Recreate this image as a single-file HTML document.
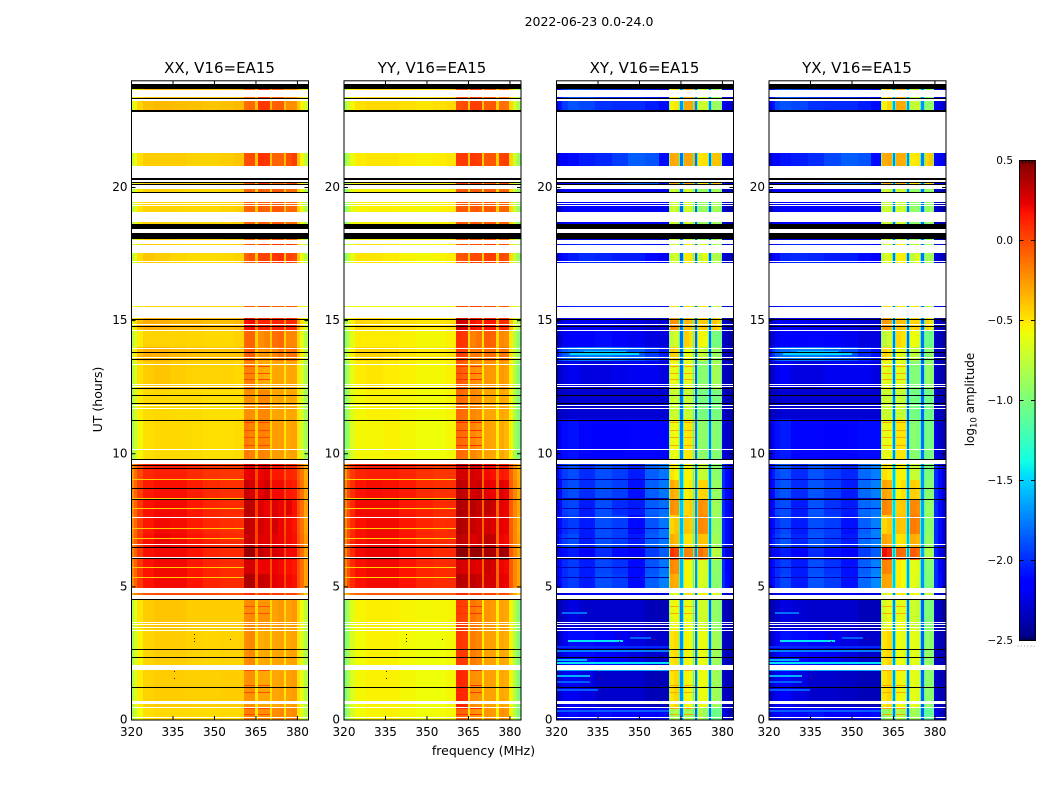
<!DOCTYPE html>
<html lang="en">
<head>
<meta charset="utf-8">
<title>2022-06-23 0.0-24.0</title>
<style>
html,body{margin:0;padding:0;background:#fff;}
svg{display:block;}
text{font-family:"DejaVu Sans","Liberation Sans",sans-serif;fill:#000;}
</style>
</head>
<body>
<svg id="figure" xmlns="http://www.w3.org/2000/svg" width="1050" height="800" viewBox="0 0 1050 800">
  <rect x="0" y="0" width="1050" height="800" fill="#fff"/>
  <text x="589" y="26" font-size="12.5" text-anchor="middle">2022-06-23 0.0-24.0</text>
  <text x="483.5" y="755" font-size="12.5" text-anchor="middle">frequency (MHz)</text>
  <text transform="translate(102,399.5) rotate(-90)" font-size="12.5" text-anchor="middle">UT (hours)</text>
  <text transform="translate(974,399.5) rotate(-90)" font-size="12" text-anchor="middle">log<tspan font-size="8.5" dy="2.5">10</tspan><tspan dy="-2.5"> amplitude</tspan></text>
  <g id="panels"></g>
  <g id="colorbar"></g>
</svg>
<script>
const panelTitles = ["XX, V16=EA15", "YY, V16=EA15", "XY, V16=EA15", "YX, V16=EA15"];
const xTickLabels = [320, 335, 350, 365, 380];
const yTickLabels = [0, 5, 10, 15, 20];
const colorbarTickLabels = [0.5, 0.0, -0.5, -1.0, -1.5, -2.0, -2.5];

const freqEdges = [320,321,322,324,328,334,340,346,352,357,360.5,362.5,364.7,365.7,367.8,369.9,370.8,373,375,376,378,379.8,381,382.5,384];
const hourEdges = [0,.5,1.9,3.4,4.55,4.97,5.5,6,6.45,7,7.7,8.3,9,9.62,11.3,12.4,13.5,14,14.6,15.11,17,18,20,22,24];

const xxValues = [
[-.85,-.7,-.58,-.48,-.46,-.46,-.47,-.47,-.46,-.46,-.18,-.16,-.5,-.22,-.22,-.5,-.22,-.2,-.5,-.22,-.2,-.5,-.65,-.8],
[-.82,-.65,-.52,-.44,-.42,-.42,-.43,-.43,-.42,-.42,-.24,-.22,-.5,-.3,-.3,-.48,-.3,-.28,-.5,-.28,-.26,-.48,-.62,-.78],
[-.85,-.68,-.55,-.45,-.42,-.42,-.44,-.45,-.44,-.44,-.22,-.2,-.48,-.32,-.3,-.5,-.3,-.28,-.5,-.3,-.28,-.5,-.65,-.8],
[-.8,-.62,-.5,-.42,-.4,-.4,-.42,-.42,-.42,-.42,-.22,-.2,-.45,-.24,-.24,-.46,-.28,-.25,-.45,-.28,-.25,-.45,-.6,-.75],
[-.3,-.2,-.12,-.04,0,0,0,0,-.02,-.02,.08,.1,-.15,.05,.08,-.15,.05,.05,-.18,.02,.02,-.15,-.25,-.4],
[-.2,-.08,.05,.17,.2,.2,.17,.12,.1,.1,.38,.38,.05,.32,.3,0,.24,.22,0,.2,.18,-.02,-.12,-.28],
[-.2,-.08,.05,.17,.2,.2,.16,.12,.1,.1,.28,.28,.02,.22,.22,-.02,.22,.2,-.02,.18,.16,-.02,-.12,-.28],
[-.2,-.08,.05,.18,.2,.2,.17,.12,.1,.1,.42,.42,.05,.32,.28,0,.28,.24,0,.2,.2,-.02,-.12,-.28],
[-.2,-.08,.06,.18,.22,.2,.17,.13,.11,.1,.3,.32,.02,.26,.24,0,.24,.22,0,.2,.18,-.02,-.12,-.26],
[-.22,-.1,.04,.16,.2,.19,.15,.11,.09,.08,.34,.32,.02,.28,.24,-.02,.28,.22,-.02,.2,.17,-.04,-.14,-.3],
[-.2,-.08,.05,.18,.2,.2,.16,.12,.1,.1,.35,.34,.04,.26,.22,0,.26,.22,0,.24,.18,-.02,-.12,-.28],
[-.22,-.1,.03,.15,.18,.18,.14,.1,.08,.08,.32,.28,.02,.24,.28,0,.2,.2,0,.16,.14,-.04,-.14,-.3],
[-.25,-.12,.0,.11,.13,.13,.1,.07,.06,.06,.22,.24,0,.22,.24,-.04,.16,.16,-.04,.12,.1,-.06,-.16,-.32],
[-.88,-.72,-.56,-.48,-.46,-.46,-.47,-.48,-.48,-.47,-.16,-.18,-.45,-.18,-.2,-.45,-.27,-.27,-.5,-.3,-.28,-.5,-.7,-.85],
[-.85,-.7,-.52,-.47,-.46,-.47,-.47,-.48,-.48,-.48,-.22,-.22,-.45,-.2,-.2,-.46,-.3,-.28,-.5,-.3,-.3,-.5,-.68,-.85],
[-.8,-.66,-.48,-.42,-.4,-.42,-.44,-.44,-.44,-.46,-.2,-.18,-.45,-.3,-.32,-.48,-.3,-.3,-.5,-.3,-.3,-.5,-.66,-.82],
[-.7,-.52,-.38,-.32,-.33,-.36,-.38,-.4,-.4,-.4,-.08,-.05,-.38,-.24,-.22,-.38,-.2,-.14,-.38,-.14,-.12,-.4,-.55,-.75],
[-.8,-.65,-.52,-.44,-.44,-.44,-.45,-.46,-.46,-.44,-.1,-.08,-.42,-.22,-.18,-.42,-.12,-.1,-.42,-.2,-.2,-.45,-.62,-.8],
[-.65,-.5,-.38,-.32,-.33,-.35,-.36,-.38,-.38,-.36,.18,.2,-.18,.12,.12,-.2,.12,.12,-.2,.1,.1,-.3,-.5,-.68],
[-.62,-.55,-.5,-.47,-.46,-.46,-.47,-.47,-.47,-.47,-.05,-.05,-.45,.02,.02,-.45,-.05,-.05,-.45,-.05,-.05,-.45,-.55,-.65],
[-.78,-.62,-.48,-.4,-.42,-.45,-.47,-.47,-.46,-.44,-.08,-.02,-.38,.02,.02,-.4,.06,.08,-.4,.02,.0,-.4,-.6,-.78],
[-.8,-.65,-.5,-.44,-.44,-.45,-.46,-.46,-.44,-.42,-.1,-.08,-.4,-.06,-.08,-.4,-.05,-.05,-.4,-.1,-.1,-.42,-.62,-.8],
[-.75,-.6,-.48,-.42,-.42,-.42,-.44,-.44,-.42,-.4,-.02,.0,-.38,.08,.06,-.38,-.08,-.08,-.36,-.02,.04,-.38,-.55,-.75],
[-.68,-.55,-.45,-.38,-.36,-.37,-.38,-.4,-.38,-.36,-.12,-.1,-.38,.06,.06,-.35,-.08,-.06,-.38,-.22,-.22,-.4,-.55,-.68]
];

const yyValues = [
[-1.0,-.85,-.68,-.57,-.55,-.54,-.56,-.58,-.57,-.56,-.08,-.1,-.5,-.22,-.25,-.55,-.24,-.26,-.55,-.22,-.25,-.55,-.8,-1.0],
[-1.0,-.84,-.66,-.56,-.54,-.54,-.56,-.58,-.58,-.56,.12,.1,-.48,-.22,-.24,-.52,-.28,-.28,-.54,-.3,-.32,-.55,-.8,-1.0],
[-1.0,-.85,-.67,-.57,-.54,-.54,-.57,-.58,-.58,-.56,.06,.05,-.48,-.16,-.2,-.52,-.28,-.28,-.52,-.3,-.32,-.55,-.8,-1.0],
[-.98,-.82,-.64,-.55,-.53,-.53,-.55,-.56,-.56,-.55,.04,.02,-.48,-.14,-.18,-.52,-.24,-.26,-.52,-.28,-.3,-.55,-.78,-.98],
[-.35,-.25,-.15,-.08,-.04,-.04,-.05,-.06,-.06,-.06,.1,.1,-.2,.05,.05,-.22,.02,.02,-.22,.02,0,-.2,-.32,-.45],
[-.18,-.02,.1,.18,.2,.2,.17,.12,.1,.1,.36,.34,-.05,.34,.3,-.1,.28,.28,-.1,.24,.22,-.05,-.2,-.3],
[-.18,-.02,.1,.18,.2,.2,.17,.12,.1,.1,.28,.26,-.08,.26,.24,-.1,.3,.28,-.1,.22,.2,-.05,-.2,-.3],
[-.18,-.02,.1,.2,.22,.22,.18,.13,.1,.1,.46,.46,-.02,.44,.44,-.06,.4,.38,-.06,.42,.4,-.05,-.2,-.3],
[-.2,-.02,.1,.18,.2,.2,.17,.12,.1,.1,.34,.32,-.06,.26,.28,-.1,.34,.32,-.1,.22,.2,-.05,-.2,-.3],
[-.2,-.03,.09,.18,.2,.2,.16,.12,.09,.1,.38,.36,-.06,.32,.28,-.1,.28,.26,-.1,.24,.22,-.06,-.2,-.32],
[-.18,-.02,.1,.2,.2,.2,.16,.13,.1,.1,.38,.36,-.05,.36,.32,-.1,.34,.3,-.1,.24,.22,-.05,-.2,-.3],
[-.2,-.03,.08,.17,.19,.18,.15,.1,.08,.08,.34,.32,-.06,.28,.3,-.1,.24,.22,-.1,.26,.22,-.06,-.2,-.32],
[-.24,-.06,.05,.12,.14,.14,.12,.08,.06,.06,.28,.28,-.08,.28,.26,-.1,.2,.18,-.1,.16,.14,-.08,-.22,-.34],
[-1.0,-.85,-.66,-.56,-.56,-.54,-.56,-.58,-.58,-.56,-.1,-.12,-.52,-.2,-.24,-.52,-.28,-.3,-.54,-.3,-.35,-.55,-.85,-1.0],
[-.98,-.82,-.64,-.56,-.54,-.54,-.56,-.57,-.57,-.55,-.1,-.12,-.52,-.2,-.22,-.52,-.3,-.3,-.54,-.3,-.32,-.55,-.82,-1.0],
[-.96,-.8,-.62,-.52,-.5,-.52,-.54,-.56,-.56,-.54,-.05,-.08,-.5,-.22,-.25,-.5,-.25,-.25,-.52,-.25,-.28,-.55,-.8,-.98],
[-.88,-.7,-.54,-.44,-.44,-.46,-.5,-.52,-.52,-.5,.05,.02,-.46,-.15,-.15,-.46,-.12,-.12,-.46,-.14,-.16,-.5,-.75,-.92],
[-.96,-.8,-.62,-.52,-.52,-.52,-.54,-.56,-.56,-.54,.08,.06,-.46,-.18,-.14,-.48,-.06,-.08,-.46,-.2,-.22,-.52,-.78,-.96],
[-.85,-.7,-.55,-.45,-.46,-.48,-.48,-.5,-.5,-.48,.3,.28,-.3,.18,.14,-.34,.16,.16,-.34,.1,.08,-.4,-.66,-.85],
[-.8,-.68,-.6,-.56,-.56,-.56,-.57,-.57,-.57,-.56,.0,0,-.45,.02,.02,-.45,.0,-.02,-.45,-.05,-.05,-.5,-.65,-.8],
[-.95,-.78,-.62,-.5,-.5,-.52,-.55,-.56,-.55,-.52,-.04,-.02,-.42,.0,.0,-.44,.04,.04,-.44,.0,-.02,-.46,-.72,-.92],
[-.95,-.8,-.62,-.55,-.54,-.54,-.55,-.56,-.54,-.52,-.05,-.05,-.44,-.05,-.06,-.44,-.05,-.05,-.44,-.08,-.08,-.46,-.72,-.92],
[-.92,-.76,-.6,-.52,-.5,-.5,-.52,-.54,-.52,-.5,.05,.05,-.4,.06,.04,-.42,-.04,-.04,-.42,.02,.04,-.45,-.7,-.9],
[-.85,-.7,-.56,-.48,-.46,-.46,-.48,-.5,-.48,-.46,-.02,0,-.42,.04,.04,-.4,-.06,-.04,-.42,-.12,-.14,-.45,-.68,-.85]
];

const xyValues = [
[-2.3,-2.2,-2.15,-2.1,-2.15,-2.1,-2.15,-2.15,-2.15,-2.1,-.9,-.8,-1.8,-.85,-.85,-1.85,-.8,-.9,-1.85,-1.05,-1.05,-2.2,-2.3,-2.35],
[-2.35,-2.3,-2.2,-2.2,-2.25,-2.3,-2.3,-2.3,-2.35,-2.35,-.5,-.45,-1.7,-.55,-.6,-1.8,-.6,-.6,-1.85,-.85,-.9,-2.3,-2.35,-2.35],
[-2.35,-2.3,-2.2,-2.1,-2.1,-2.15,-2.2,-2.25,-2.3,-2.3,-.5,-.47,-1.7,-.55,-.6,-1.8,-.6,-.62,-1.85,-.85,-.9,-2.3,-2.35,-2.35],
[-2.4,-2.35,-2.3,-2.25,-2.3,-2.3,-2.3,-2.3,-2.35,-2.35,-.65,-.55,-1.75,-.6,-.6,-1.8,-.7,-.7,-1.85,-.9,-.95,-2.3,-2.35,-2.4],
[-2.35,-2.3,-2.25,-2.2,-2.2,-2.2,-2.2,-2.2,-2.25,-2.25,-.7,-.6,-1.75,-.5,-.5,-1.8,-.55,-.55,-1.8,-.6,-.7,-2.2,-2.3,-2.35],
[-2.2,-2.1,-2,-1.95,-2.05,-1.9,-1.95,-2.1,-1.85,-1.75,-.3,-.32,-1.6,-.55,-.6,-1.7,-.65,-.7,-1.75,-.95,-.95,-2,-2.1,-2.25],
[-2.2,-2.1,-2,-1.95,-2.05,-1.92,-1.98,-2.1,-1.88,-1.78,-.2,-.22,-1.6,-.55,-.6,-1.7,-.65,-.68,-1.75,-.92,-.95,-2,-2.12,-2.25],
[-2.3,-2.2,-2.1,-2.05,-2.15,-2,-2.1,-2.15,-1.95,-1.85,.08,.02,-1.6,-.18,-.2,-1.7,-.12,-.2,-1.7,-.75,-.8,-2.05,-2.2,-2.3],
[-2.15,-2.05,-1.95,-1.9,-2.05,-1.9,-1.95,-2.05,-1.85,-1.78,-.32,-.36,-1.55,-.5,-.5,-1.65,-.38,-.4,-1.7,-.85,-.9,-2,-2.1,-2.25],
[-2.2,-2.1,-2,-1.95,-2.05,-1.9,-1.95,-2.1,-1.88,-1.78,-.45,-.4,-1.6,-.4,-.42,-1.7,-.2,-.22,-1.7,-.9,-.9,-2,-2.1,-2.25],
[-2.2,-2.1,-1.95,-1.92,-2.05,-1.9,-2,-2.05,-1.85,-1.8,-.22,-.25,-1.55,-.45,-.42,-1.7,-.22,-.25,-1.7,-.85,-.9,-2,-2.1,-2.25],
[-2.2,-2.1,-1.95,-1.9,-2,-1.9,-1.95,-2.08,-1.85,-1.78,-.3,-.35,-1.6,-.55,-.5,-1.7,-.45,-.45,-1.75,-.9,-.9,-2,-2.1,-2.25],
[-2.15,-2.05,-1.95,-1.9,-2,-1.9,-1.95,-2.05,-1.85,-1.78,-.5,-.55,-1.6,-.55,-.55,-1.7,-.72,-.75,-1.75,-.92,-.95,-2,-2.1,-2.25],
[-2.3,-2.2,-2.1,-2.08,-2.12,-2.15,-2.15,-2.12,-2.12,-2.12,-.62,-.58,-1.75,-.52,-.5,-1.8,-.92,-.95,-1.8,-.95,-.98,-2.25,-2.3,-2.35],
[-2.38,-2.33,-2.3,-2.28,-2.28,-2.28,-2.28,-2.28,-2.28,-2.28,-.72,-.7,-1.8,-.72,-.72,-1.85,-1,-1.02,-1.85,-1,-1.02,-2.3,-2.35,-2.38],
[-2.38,-2.3,-2.25,-2.2,-2.25,-2.25,-2.22,-2.2,-2.2,-2.25,-.62,-.62,-1.8,-.62,-.62,-1.85,-.95,-.95,-1.85,-.85,-.88,-2.3,-2.35,-2.38],
[-2.1,-1.95,-1.85,-1.8,-1.75,-1.75,-1.8,-1.85,-1.95,-2.05,-.42,-.45,-1.8,-.6,-.62,-1.85,-.72,-.78,-1.85,-.88,-.92,-2.3,-2.35,-2.38],
[-2.35,-2.3,-2.2,-2.15,-2.15,-2.1,-2.15,-2.2,-2.25,-2.25,-.75,-.68,-1.8,-.42,-.48,-1.85,-.55,-.6,-1.85,-1,-1.05,-2.3,-2.35,-2.38],
[-2.35,-2.28,-2.22,-2.2,-2.2,-2.2,-2.22,-2.25,-2.28,-2.28,-.22,-.25,-1.8,-.35,-.38,-1.85,-.42,-.42,-1.85,-.4,-.45,-2.3,-2.35,-2.38],
[-2.2,-2.15,-2.1,-2.05,-2.05,-2.05,-2.05,-2.05,-2.08,-2.1,-.5,-.5,-1.85,-.5,-.5,-1.85,-.5,-.5,-1.85,-.72,-.75,-2.2,-2.25,-2.3],
[-2.3,-2.2,-2.1,-2.05,-2,-2.02,-2.05,-2.05,-2.1,-2.15,-.72,-.68,-1.85,-.52,-.5,-1.85,-.72,-.6,-1.85,-.8,-.82,-2.25,-2.3,-2.35],
[-2.35,-2.3,-2.2,-2.15,-2.15,-2.15,-2.15,-2.2,-2.2,-2.2,-.7,-.72,-1.85,-.68,-.7,-1.85,-.9,-.9,-1.85,-.85,-.88,-2.3,-2.35,-2.38],
[-2.3,-2.2,-2.15,-2.1,-2.05,-2.02,-1.95,-1.85,-1.88,-2.1,-.3,-.32,-1.8,-.3,-.3,-1.8,-.5,-.48,-1.8,-.4,-.38,-2.1,-2.15,-2.2],
[-2.2,-2.08,-1.95,-1.88,-1.92,-1.98,-2,-2,-2.05,-2.1,-.55,-.5,-1.7,-.3,-.3,-1.75,-.72,-.7,-1.75,-.88,-.9,-2.2,-2.25,-2.3]
];

const yxValues = [
[-2.3,-2.2,-2.12,-2.1,-2.12,-2.08,-2.15,-2.15,-2.15,-2.1,-.95,-.85,-1.8,-.8,-.85,-1.85,-.85,-.9,-1.85,-1.1,-1.1,-2.2,-2.3,-2.35],
[-2.35,-2.28,-2.2,-2.15,-2.25,-2.3,-2.3,-2.32,-2.35,-2.35,-.5,-.45,-1.7,-.55,-.62,-1.8,-.62,-.65,-1.85,-.9,-.95,-2.3,-2.35,-2.35],
[-2.35,-2.28,-2.18,-2.08,-2.1,-2.15,-2.2,-2.25,-2.3,-2.3,-.5,-.45,-1.7,-.58,-.62,-1.8,-.62,-.65,-1.85,-.88,-.95,-2.3,-2.35,-2.35],
[-2.4,-2.35,-2.3,-2.25,-2.28,-2.3,-2.3,-2.3,-2.35,-2.35,-.68,-.6,-1.75,-.62,-.62,-1.8,-.7,-.75,-1.85,-.95,-1,-2.3,-2.35,-2.4],
[-2.35,-2.3,-2.25,-2.2,-2.2,-2.2,-2.2,-2.2,-2.25,-2.25,-.7,-.62,-1.75,-.52,-.52,-1.8,-.58,-.58,-1.8,-.65,-.72,-2.2,-2.3,-2.35],
[-2.2,-2.1,-2,-1.92,-2.05,-1.88,-1.95,-2.08,-1.82,-1.72,-.28,-.3,-1.55,-.52,-.58,-1.65,-.62,-.68,-1.7,-.98,-.98,-2,-2.1,-2.25],
[-2.2,-2.1,-2,-1.95,-2.05,-1.9,-1.98,-2.08,-1.85,-1.75,-.18,-.2,-1.55,-.52,-.58,-1.65,-.62,-.65,-1.7,-.95,-.98,-2,-2.12,-2.25],
[-2.3,-2.2,-2.1,-2.05,-2.15,-2,-2.08,-2.15,-1.95,-1.85,.2,.12,-1.55,-.1,-.12,-1.65,-.05,-.12,-1.65,-.78,-.82,-2.05,-2.2,-2.3],
[-2.15,-2.05,-1.95,-1.88,-2.02,-1.88,-1.95,-2.05,-1.82,-1.75,-.28,-.32,-1.5,-.5,-.48,-1.6,-.32,-.35,-1.65,-.88,-.92,-2,-2.1,-2.25],
[-2.2,-2.1,-1.98,-1.92,-2.05,-1.9,-1.95,-2.08,-1.85,-1.75,-.45,-.4,-1.55,-.38,-.4,-1.65,-.16,-.18,-1.65,-.92,-.95,-2,-2.1,-2.25],
[-2.2,-2.1,-1.92,-1.9,-2.05,-1.88,-1.98,-2.05,-1.82,-1.78,-.18,-.22,-1.5,-.42,-.4,-1.65,-.2,-.22,-1.65,-.88,-.92,-2,-2.1,-2.25],
[-2.2,-2.1,-1.92,-1.88,-2,-1.88,-1.95,-2.05,-1.82,-1.75,-.28,-.32,-1.55,-.55,-.48,-1.65,-.42,-.45,-1.7,-.95,-.95,-2,-2.1,-2.25],
[-2.15,-2.05,-1.92,-1.88,-2,-1.88,-1.95,-2.02,-1.82,-1.75,-.48,-.52,-1.55,-.55,-.55,-1.65,-.72,-.75,-1.7,-.98,-1,-2,-2.1,-2.25],
[-2.3,-2.2,-2.08,-2.05,-2.12,-2.12,-2.15,-2.12,-2.1,-2.1,-.62,-.6,-1.75,-.5,-.5,-1.8,-.95,-.98,-1.8,-1,-1.02,-2.25,-2.3,-2.35],
[-2.38,-2.33,-2.3,-2.28,-2.28,-2.28,-2.28,-2.28,-2.28,-2.28,-.72,-.72,-1.8,-.72,-.75,-1.85,-1.02,-1.05,-1.85,-1.05,-1.05,-2.3,-2.35,-2.38],
[-2.38,-2.3,-2.22,-2.18,-2.25,-2.25,-2.2,-2.2,-2.2,-2.25,-.62,-.65,-1.8,-.62,-.65,-1.85,-.98,-.98,-1.85,-.9,-.92,-2.3,-2.35,-2.38],
[-2.1,-1.98,-1.85,-1.8,-1.75,-1.75,-1.8,-1.88,-2,-2.08,-.45,-.48,-1.8,-.6,-.65,-1.85,-.75,-.8,-1.85,-.92,-.95,-2.3,-2.35,-2.38],
[-2.35,-2.28,-2.2,-2.12,-2.15,-2.12,-2.15,-2.2,-2.25,-2.25,-.78,-.7,-1.8,-.45,-.5,-1.85,-.58,-.62,-1.8,-1.02,-1.08,-2.3,-2.35,-2.38],
[-2.35,-2.28,-2.22,-2.2,-2.2,-2.22,-2.22,-2.25,-2.28,-2.28,-.25,-.28,-1.8,-.38,-.4,-1.8,-.45,-.45,-1.8,-.45,-.5,-2.3,-2.35,-2.38],
[-2.2,-2.15,-2.1,-2.05,-2.05,-2.05,-2.05,-2.05,-2.08,-2.1,-.52,-.52,-1.8,-.52,-.52,-1.8,-.52,-.52,-1.8,-.75,-.78,-2.2,-2.25,-2.3],
[-2.3,-2.2,-2.1,-2.02,-2,-2.02,-2.05,-2.05,-2.1,-2.15,-.7,-.65,-1.8,-.55,-.52,-1.8,-.75,-.62,-1.8,-.82,-.85,-2.25,-2.3,-2.35],
[-2.35,-2.3,-2.2,-2.15,-2.15,-2.15,-2.15,-2.2,-2.2,-2.2,-.72,-.72,-1.8,-.7,-.72,-1.8,-.92,-.92,-1.8,-.88,-.9,-2.3,-2.35,-2.38],
[-2.3,-2.2,-2.12,-2.08,-2.05,-2,-1.92,-1.85,-1.88,-2.1,-.32,-.3,-1.75,-.32,-.32,-1.75,-.52,-.5,-1.75,-.45,-.4,-2.1,-2.15,-2.2],
[-2.2,-2.08,-1.92,-1.88,-1.92,-1.98,-2,-2,-2.05,-2.1,-.55,-.45,-1.65,-.3,-.32,-1.7,-.75,-.72,-1.7,-.9,-.92,-2.2,-2.25,-2.3]
];

const whiteGapHours = [[.08,.11],[.46,.49],[.6,.71],[1.88,2.08],[3.34,3.39],[3.48,3.5],[3.56,3.6],[3.67,3.69],[4.56,4.69],[4.77,4.97],[6.08,6.11],[6.57,6.61],[7.58,7.64],[9.62,9.77],[10.14,10.18],[11.69,11.73],[11.79,11.82],[12.52,12.55],[12.58,12.61],[13.34,13.37],[13.6,13.62],[13.93,13.96],[14.64,14.66],[14.87,14.89],[15.11,15.51],[15.55,17.17],[17.24,17.25],[17.54,17.84],[17.89,18.03],[18.3,18.44],[18.7,19.08],[19.3,19.34],[19.38,19.41],[19.45,19.8],[19.94,20.09],[20.22,20.28],[20.36,20.81],[21.3,22.84],[23.26,23.31],[23.4,23.66],[23.9,24]];
const flaggedHours = [[1.21,1.24],[2.34,2.37],[2.64,2.67],[4.52,4.54],[6.06,6.08],[6.47,6.5],[8.27,8.3],[8.68,8.7],[9.44,9.48],[9.53,9.57],[9.77,9.79],[11.24,11.27],[11.87,11.89],[12.16,12.21],[12.44,12.47],[13.53,13.56],[13.78,13.82],[14.79,14.81],[15.02,15.06],[18.05,18.3],[18.44,18.63],[19.8,19.84],[20.09,20.13],[20.18,20.22],[20.28,20.36],[22.84,22.92],[23.31,23.35],[23.7,23.89]];
const dropoutHours = [5.35,5.72,6.45,6.82,7.2,7.94,8.32,9.03];
const dropoutLevels = [-.42,-.45,-2.35,-2.35];
const spurHours = [.19,.41,1.03,1.29,1.84,3.98,4.24,10.3,10.6,10.85,11.15,12.77,13,13.25];
const spurLevels = [.0,.08,-.3,-.3];
const spurBands = [[360.5,364.7],[365.7,369.9]];

const crossStreakHours = [3.98,2.93,3.04,2.7,2.55,2.23,2.1,1.85,1.63,1.38,1.1,.31,13.7,13.78];
const crossStreakStart = [322,324,346.5,320,320,320,320,320,320,320,320,320,325,330];
const crossStreakEnd = [331,344,354,360.5,360.5,331,360.5,360.5,332,332,335,360.5,350,345];
const crossStreakLevels = [-1.8,-1.45,-1.85,-2,-1.75,-1.6,-1.45,-1.65,-1.6,-1.85,-1.85,-1.85,-1.5,-1.55];

const edgeFreqs = [360.5,364.3,365.7,369.5,370.8,374.6,376,379.4];
const edgeLevels = [-.95,-1.2,-1.2,-1.2,-1.2,-1.2,-1.2,-1.0];

const specFreqs = [342.5,342.5,342.5,342.5,355.5,335.3,335.3];
const specHours = [3.35,3.2,3.05,2.95,3.0,1.8,1.55];
const specLevels = [.45,.45,.45,.45,.45,.45,.45];

const axisTop = 81, axisBottom = 720, axisWidth = 177, panelStep = 212.5, firstPanelLeft = 131.5;
const freqMin = 320, freqMax = 384, hourMin = 0, hourMax = 24;
const colorMin = -2.5, colorMax = 0.5;
const SVGNS = "http://www.w3.org/2000/svg";

function panelLeft(p){ return firstPanelLeft + p * panelStep; }
function xScale(p, f){ return panelLeft(p) + (f - freqMin) / (freqMax - freqMin) * axisWidth; }
function yScale(h){ return axisBottom - (h - hourMin) / (hourMax - hourMin) * (axisBottom - axisTop); }
function lerpStops(t, stops){
  for (let i = 1; i < stops.length; i++) {
    if (t <= stops[i][0]) {
      const a = stops[i-1], b = stops[i];
      return a[1] + (b[1] - a[1]) * (t - a[0]) / (b[0] - a[0]);
    }
  }
  return stops[stops.length-1][1];
}
function jet(v){
  const t = Math.max(0, Math.min(1, (v - colorMin) / (colorMax - colorMin)));
  const r = lerpStops(t, [[0,0],[.35,0],[.66,1],[.89,1],[1,.5]]);
  const g = lerpStops(t, [[0,0],[.125,0],[.375,1],[.64,1],[.91,0],[1,0]]);
  const b = lerpStops(t, [[0,.5],[.11,1],[.34,1],[.65,0],[1,0]]);
  return "rgb(" + Math.round(r*255) + "," + Math.round(g*255) + "," + Math.round(b*255) + ")";
}
function hBand(parent, x0, x1, h0, h1, fill){
  const top = Math.round(yScale(h1));
  let bot = Math.round(yScale(h0));
  if (bot <= top) bot = top + 1;
  const el = document.createElementNS(SVGNS, "rect");
  el.setAttribute("x", Math.round(x0));
  el.setAttribute("y", top);
  el.setAttribute("width", Math.max(1, Math.round(x1) - Math.round(x0)));
  el.setAttribute("height", bot - top);
  el.setAttribute("fill", fill);
  el.setAttribute("shape-rendering", "crispEdges");
  parent.appendChild(el);
  return el;
}
function line(parent, x1, y1, x2, y2, color, w){
  const el = document.createElementNS(SVGNS, "line");
  el.setAttribute("x1", x1);
  el.setAttribute("y1", y1);
  el.setAttribute("x2", x2);
  el.setAttribute("y2", y2);
  el.setAttribute("stroke", color);
  el.setAttribute("stroke-width", w);
  parent.appendChild(el);
  return el;
}
function label(parent, x, y, str, anchor, size){
  const el = document.createElementNS(SVGNS, "text");
  el.setAttribute("x", x);
  el.setAttribute("y", y);
  el.setAttribute("text-anchor", anchor);
  el.setAttribute("font-size", size);
  el.textContent = str;
  parent.appendChild(el);
  return el;
}

const panelValues = [xxValues, yyValues, xyValues, yxValues];
const panelsRoot = document.getElementById("panels");

panelTitles.forEach(function(title, p){
  const g = document.createElementNS(SVGNS, "g");
  
  
  panelsRoot.appendChild(g);

  const values = panelValues[p];
  values.forEach(function(row, r){
    row.forEach(function(v, c){
      const cell = hBand(g, xScale(p, freqEdges[c]), xScale(p, freqEdges[c+1]), hourEdges[r], hourEdges[r+1], jet(v));
      
      
    });
  });

  dropoutHours.forEach(function(h){
    const d = hBand(g, xScale(p, 320), xScale(p, 360.5), h, h + .03, jet(dropoutLevels[p]));
    
    
  });

  spurHours.forEach(function(h){
    spurBands.forEach(function(b){
      const s = hBand(g, xScale(p, b[0]), xScale(p, b[1]), h, h + .03, jet(spurLevels[p]));
      
      
    });
  });

  if (p >= 2) {
    edgeFreqs.forEach(function(f, i){
      const e = hBand(g, xScale(p, f), xScale(p, f) + 1, hourMin, hourMax, jet(edgeLevels[i]));
      
      
    });
    crossStreakHours.forEach(function(h, i){
      const s = hBand(g, xScale(p, crossStreakStart[i]), xScale(p, crossStreakEnd[i]), h, h + .07, jet(crossStreakLevels[i]));
      
      
    });
  }

  specFreqs.forEach(function(f, i){
    const s = hBand(g, xScale(p, f), xScale(p, f) + 1, specHours[i], specHours[i] + .03, jet(specLevels[i]));
    
    
  });

  whiteGapHours.forEach(function(span){
    const w = hBand(g, xScale(p, freqMin), xScale(p, freqMax), span[0], span[1], "#fff");
    
    
  });

  flaggedHours.forEach(function(span){
    const k = hBand(g, xScale(p, freqMin), xScale(p, freqMax), span[0], span[1], "#000");
    
    
  });

  const frame = document.createElementNS(SVGNS, "rect");
  frame.setAttribute("x", panelLeft(p));
  frame.setAttribute("y", axisTop - .2);
  frame.setAttribute("width", axisWidth);
  frame.setAttribute("height", axisBottom - axisTop + .2);
  frame.setAttribute("fill", "none");
  frame.setAttribute("stroke", "#000");
  frame.setAttribute("stroke-width", "1");
  
  
  g.appendChild(frame);

  const titleEl = label(g, panelLeft(p) + axisWidth / 2 - .5, 73, title, "middle", 15);
  
  

  xTickLabels.forEach(function(t){
    const x = xScale(p, t);
    const a = line(g, x, axisBottom, x, axisBottom - 4, "#000", 1);
    
    
    const b = line(g, x, axisTop, x, axisTop + 4, "#000", 1);
    
    
    const l = label(g, x, 736, String(t), "middle", 12);
    
    
  });

  yTickLabels.forEach(function(t){
    const y = yScale(t);
    const a = line(g, panelLeft(p), y, panelLeft(p) + 4, y, "#000", 1);
    
    
    const b = line(g, panelLeft(p) + axisWidth, y, panelLeft(p) + axisWidth - 4, y, "#000", 1);
    
    
    const l = label(g, panelLeft(p) - 4, y + 3.5, String(t), "end", 12);
    
    
  });
});

/* colorbar */
const cbar = document.getElementById("colorbar");
const cbarLeft = 1019.5, cbarRight = 1035, cbarTop = 160.5, cbarBottom = 640.5;
function cbarY(v){ return cbarBottom - (v - colorMin) / (colorMax - colorMin) * (cbarBottom - cbarTop); }
for (let y = Math.floor(cbarTop); y < cbarBottom; y++) {
  const v = colorMin + (cbarBottom - y - .5) / (cbarBottom - cbarTop) * (colorMax - colorMin);
  const s = document.createElementNS(SVGNS, "rect");
  s.setAttribute("x", Math.floor(cbarLeft));
  s.setAttribute("y", y);
  s.setAttribute("width", Math.ceil(cbarRight - cbarLeft) + 1);
  s.setAttribute("height", 1);
  s.setAttribute("fill", jet(v));
  s.setAttribute("shape-rendering", "crispEdges");
  
  
  cbar.appendChild(s);
}
const cbarFrame = document.createElementNS(SVGNS, "rect");
cbarFrame.setAttribute("x", cbarLeft);
cbarFrame.setAttribute("y", cbarTop);
cbarFrame.setAttribute("width", cbarRight - cbarLeft);
cbarFrame.setAttribute("height", cbarBottom - cbarTop);
cbarFrame.setAttribute("fill", "none");
cbarFrame.setAttribute("stroke", "#000");
cbarFrame.setAttribute("stroke-width", "1");


cbar.appendChild(cbarFrame);

colorbarTickLabels.forEach(function(v){
  const y = cbarY(v);
  const a = line(cbar, cbarLeft, y, cbarLeft + 4, y, "#000", 1);
  
  
  const b = line(cbar, cbarRight, y, cbarRight - 4, y, "#000", 1);
  
  
  const text = (v < 0 ? "\u2212" : "") + Math.abs(v).toFixed(1);
  const l = label(cbar, 1013, y + 3.5, text, "end", 10.5);
  
  
});

[1022.5, 1025.7, 1029, 1032.2].forEach(function(x){
  const t = line(cbar, x, cbarTop, x, cbarTop + 3, "#000", 1);
  
  
  const b = line(cbar, x, cbarBottom, x, cbarBottom - 3, "#000", 1);
  
  
});
[1017.5, 1020.7, 1024, 1027.2, 1030.4, 1033.6].forEach(function(x){
  const d = document.createElementNS(SVGNS, "rect");
  d.setAttribute("x", x);
  d.setAttribute("y", 645.5);
  d.setAttribute("width", 1);
  d.setAttribute("height", 1);
  d.setAttribute("fill", "#999");
  
  
  cbar.appendChild(d);
});
</script>
</body>
</html>
